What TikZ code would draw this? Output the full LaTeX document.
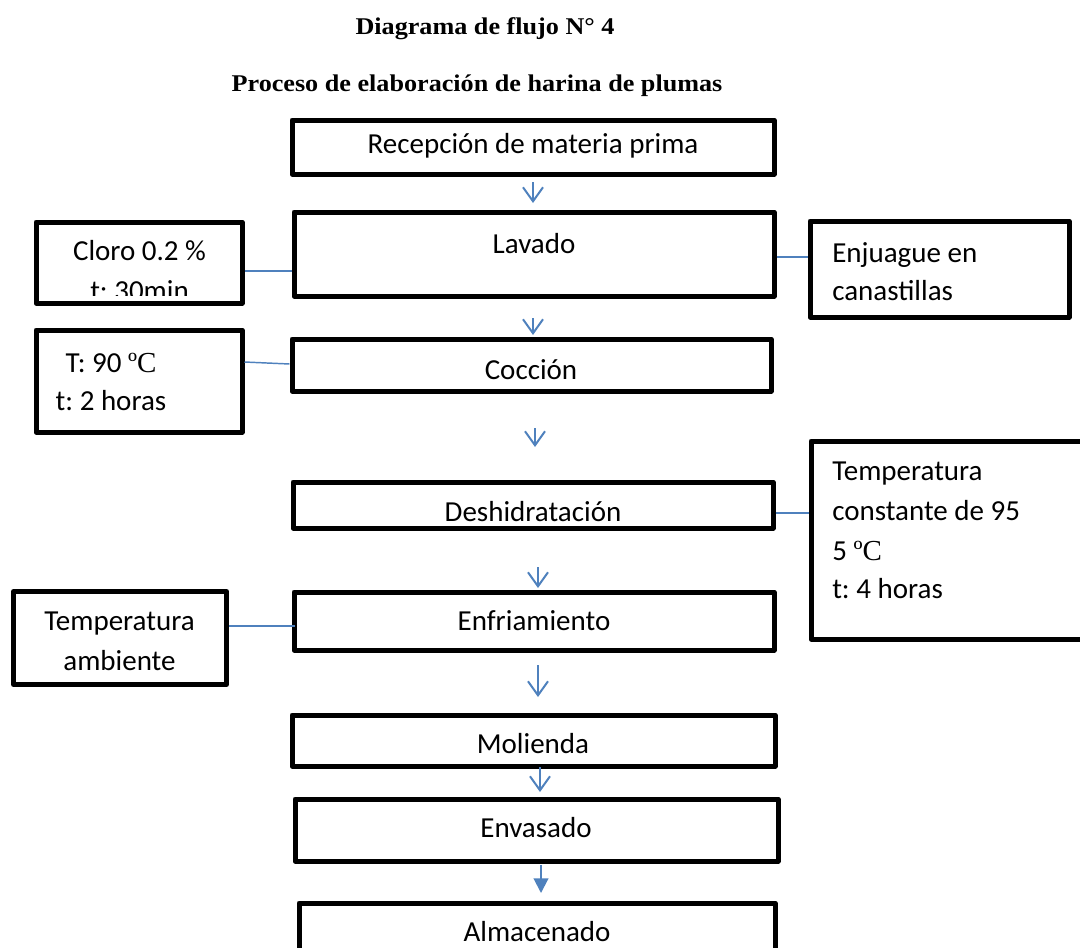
\documentclass[tikz,border=0pt]{standalone}
\usepackage{fontspec}
\setmainfont{Carlito}
\newfontfamily\tnr{Liberation Serif}
\newfontfamily\tnrwide[FakeStretch=1.09]{Liberation Serif}
\usetikzlibrary{arrows.meta,calc}
\definecolor{flowblue}{HTML}{4F81BD}
\frenchspacing
% rows of a multi-line label, baseline on the first row
\newcommand\rowstack[2]{\begin{tabular}[t]{@{}#1@{}}#2\end{tabular}}
\begin{document}
\begin{tikzpicture}[x=0.75pt,y=-0.75pt,
  box/.style={draw=black,line width=3.75pt,rectangle,inner sep=0pt,line join=round},
  sz/.style 2 args={minimum width=#1*0.75pt,minimum height=#2*0.75pt},
  txt/.style={font=\fontsize{21.75}{29}\selectfont,inner sep=0pt,anchor=base},
  ttl/.style={font=\tnrwide\bfseries\fontsize{18}{22}\selectfont,inner sep=0pt,anchor=base},
  link/.style={draw=flowblue,line width=1.1pt},
  flow/.style={draw=flowblue,line width=1.5pt,-{Straight Barb[length=10.5pt,width=15pt]}},
  flowfill/.style={draw=flowblue,line width=1.5pt,-{Triangle[length=11pt,width=11pt]}}]
\clip (0,0) rectangle (1080,947);

% titles
\node[ttl] (t1) at (485,34) {Diagrama de flujo N° 4};
\node[ttl] (t2) at (477,91) {Proceso de elaboración de harina de plumas};

% main process steps
\node[box,sz={482}{54}] (rec) at (533,147) {};
\node[box,sz={480}{84}] (lav) at (534,254) {};
\node[box,sz={479}{52}] (coc) at (531.5,365) {};
\node[box,sz={480}{46}] (des) at (533,505) {};
\node[box,sz={480}{58}] (enf) at (534,621) {};
\node[box,sz={483}{51}] (mol) at (533.5,740.5) {};
\node[box,sz={483}{62}] (env) at (536.5,830) {};
\node[box,sz={476}{72}] (alm) at (537,939) {};

\node[txt] (rec-t) at (533,153) {Recepción de materia prima};
\node[txt] (lav-t) at (534,253) {Lavado};
\node[txt] (coc-t) at (531,379) {Cocción};
\node[txt] (des-t) at (533,521) {Deshidratación};
\node[txt] (enf-t) at (534,630) {Enfriamiento};
\node[txt] (mol-t) at (533,753) {Molienda};
\node[txt] (env-t) at (536,837) {Envasado};
\node[txt] (alm-t) at (537,941) {Almacenado};

% side notes
\node[box,sz={206}{81}] (clo) at (139,262.5) {};
\node[box,sz={206}{102}] (t90) at (139,381) {};
\node[box,sz={259}{96}] (enj) at (939.5,269) {};
\node[box,sz={280}{198}] (tcon) at (951,540) {};
\node[box,sz={213}{93}] (tam) at (120,638) {};

\begin{scope}
  \clip (36,222) rectangle (242,295);
  \node[txt] (clo-t) at (139.5,260) {\rowstack{c}{Cloro 0.2 \%\\[1pt] t: 30min}};
\end{scope}
\node[txt] (t90-t) at (111,372) {\rowstack{c}{T: 90 {\tnr ºC}\\ t: 2 horas}};
\node[txt,anchor=base west] (enj-t) at (832,262) {\rowstack{l}{Enjuague en\\ canastillas}};
\node[txt,anchor=base west] (tcon-t) at (832,480) {\rowstack{l}{Temperatura\\[1pt] constante de 95\\[1pt] 5 {\tnr ºC}\\ t: 4 horas}};
\node[txt] (tam-t) at (119.5,630) {\rowstack{c}{Temperatura\\[1pt] ambiente}};

% note connectors
\draw[link] (clo.east |- 0,271) -- (lav.west |- 0,271);
\draw[link] (t90.east |- 0,362) -- (coc.west |- 0,364);
\draw[link] (lav.east |- 0,257) -- (enj.west |- 0,257);
\draw[link] (des.east |- 0,513) -- (tcon.west |- 0,513);
\draw[link] (tam.east |- 0,626) -- ($(enf.west |- 0,626)+(3,0)$);

% flow arrows
\draw[flow] ($(rec.south)+(0,5.5)$) -- ($(lav.north)+(-1,-6.5)$);
\draw[flow] ($(lav.south)+(-1,19.5)$) -- ($(coc.north)+(1.5,-1.5)$);
\draw[flow] ($(coc.south)+(3.5,34.5)$) -- ($(des.north)+(2,-32.5)$);
\draw[flow] ($(des.south)+(5,36.5)$) -- ($(enf.north)+(4,-1.5)$);
\draw[flow] ($(enf.south)+(4,12.5)$) -- ($(mol.north)+(4.5,-15.5)$);
\draw[flow] ($(mol.south)+(6.5,-1.5)$) -- ($(env.north)+(3.5,-4.5)$);
\draw[flowfill] ($(env.south)+(4.5,1.5)$) -- ($(alm.north)+(4,-7.5)$);
\end{tikzpicture}
\end{document}
